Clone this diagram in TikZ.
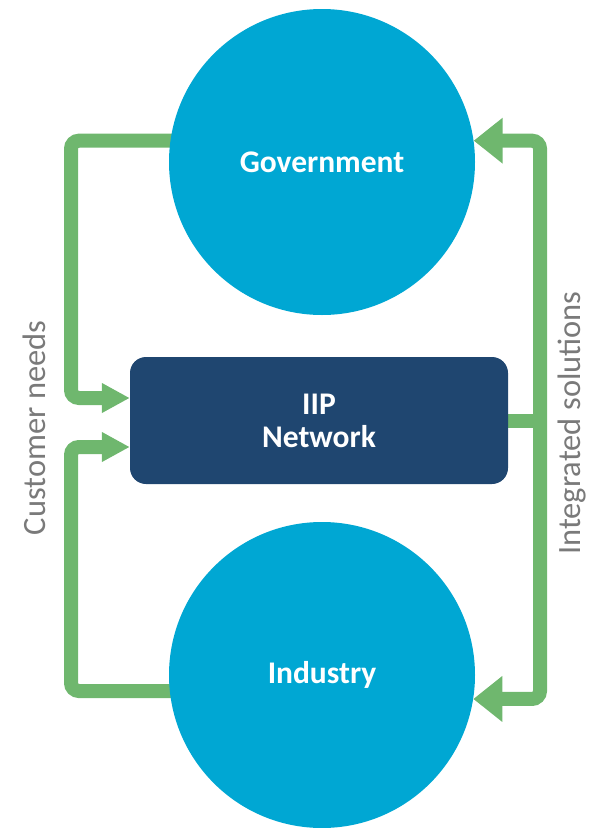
\documentclass[tikz,border=0pt]{standalone}
\usepackage{fontspec}
\setmainfont{Carlito}
\usetikzlibrary{arrows.meta,backgrounds}
\definecolor{circblue}{HTML}{00A7D3}
\definecolor{netblue}{HTML}{1F4670}
\definecolor{flowgreen}{HTML}{6FB76E}
\definecolor{labgray}{HTML}{7A7A7A}
\tikzset{
  circ/.style={circle,fill=circblue,minimum size=306pt,inner sep=0pt,text=white,
    font=\fontsize{31.5}{36}\selectfont\bfseries},
  netbox/.style={rectangle,rounded corners=16pt,fill=netblue,minimum width=378pt,
    minimum height=127pt,text=white,align=center,font=\fontsize{31.5}{33}\selectfont\bfseries},
  sidelab/.style={rotate=90,text=labgray,font=\fontsize{32.5}{38}\selectfont},
  flow/.style={draw=flowgreen,line width=14pt,rounded corners=8pt},
  tipL/.tip={Triangle[width=28pt,length=28pt]},
  tipR/.tip={Triangle[width=44pt,length=29pt]}
}
\begin{document}
\begin{tikzpicture}[x=1pt,y=-1pt]
    \useasboundingbox (0,0) rectangle (596,828);
    \node[circ] (gov) at (322,162) {Government};
    \node[circ] (ind) at (322,675) {Industry};
    \node[netbox] (net) at (319,420.5) {IIP\\Network};
    \node[sidelab] (needs) at (34,428) {Customer needs};
    \node[sidelab] (sol) at (572,423) {Integrated solutions};
    \begin{scope}[on background layer]
      % customer needs, left side
      \draw[flow,-{tipL},shorten <=-6pt] (gov.172) -| (71,398) -- (net.west |- 0,398);
      \draw[flow,-{tipL},shorten <=-6pt] (ind.186) -| (71,447) -- (net.west |- 0,447);
      % integrated solutions, right side
      \draw[flow,{tipR}-{tipR}] (gov.8) -| (540,420) |- (ind.-9);
      \draw[flow] (net.east) -- (540,420.5);
    \end{scope}
\end{tikzpicture}
\end{document}
